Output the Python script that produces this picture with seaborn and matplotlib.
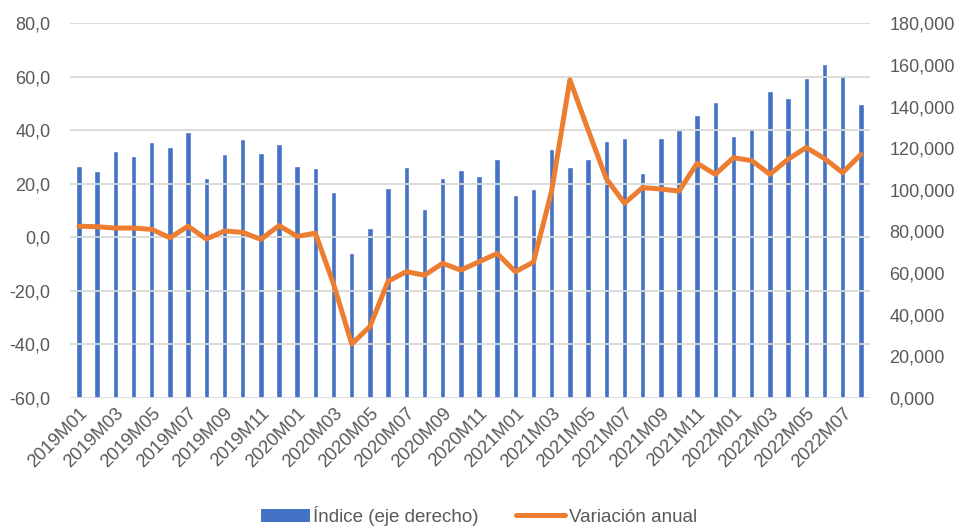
import matplotlib
matplotlib.use('Agg')
import matplotlib.pyplot as plt
from matplotlib.patches import Patch
from matplotlib.lines import Line2D
import numpy as np
import pandas as pd
import seaborn as sns

months = [f'{y}M{m:02d}' for y in range(2019, 2023) for m in range(1, 13)][:44]

indice = [111700, 109000, 118600, 116500, 122900, 120800, 127700, 105800,
          117000, 124500, 117600, 121800, 111700, 110600, 98800, 69500,
          81800, 100900, 111200, 90900, 105800, 109600, 106900, 114700,
          97300, 100500, 119700, 111200, 114700, 123400, 125000, 108000,
          125000, 128800, 136200, 142100, 126100, 129800, 147400, 144200,
          153800, 160600, 154700, 141400]

variacion = [4.2, 4.0, 3.5, 3.5, 3.0, -0.1, 4.2, -0.6,
             2.4, 1.9, -0.7, 4.4, 0.4, 1.6, -17.4, -39.8,
             -33.3, -16.4, -12.8, -14.1, -9.7, -12.2, -9.1, -6.0,
             -12.8, -9.2, 17.5, 58.9, 40.2, 22.0, 12.8, 18.6,
             18.1, 17.3, 27.7, 23.6, 29.8, 28.7, 23.6, 29.2,
             33.6, 29.5, 24.2, 31.0]

left_ticks = [-60, -40, -20, 0, 20, 40, 60, 80]
left_labels = ['-60,0', '-40,0', '-20,0', '0,0', '20,0', '40,0', '60,0', '80,0']
right_ticks = list(range(0, 180001, 20000))
right_labels = ['0,000', '20,000', '40,000', '60,000', '80,000', '100,000',
                '120,000', '140,000', '160,000', '180,000']

df = pd.DataFrame({'mes': months, 'indice': indice, 'variacion': variacion})

sns.set_style('white')
plt.rcParams['font.family'] = ['Liberation Sans', 'DejaVu Sans']

blue = '#4472C4'
orange = '#ED7D31'
grid = '#D9D9D9'
txt = '#595959'

fig = plt.figure(figsize=(9.58, 5.31), dpi=100)
ax = fig.add_axes([0.073, 0.2505, 0.835, 0.7055])

# bars, measured on the right-hand axis
sns.barplot(data=df, x='mes', y='indice', color=blue, width=0.3,
            saturation=1, ax=ax, zorder=1)
ax.set_ylim(0, 180000)

# line, measured on the left-hand axis
ax2 = ax.twinx()
sns.lineplot(data=df, x='mes', y='variacion', color=orange, linewidth=3.6,
             ax=ax2, sort=False)
ax2.set_ylim(-60, 80)
ax2.grid(axis='y', color=grid, linewidth=1.3)

# swap sides (twinx resets them)
ax.yaxis.tick_right()
ax.set_yticks(right_ticks)
ax.set_yticklabels(right_labels)
ax2.yaxis.tick_left()
ax2.set_yticks(left_ticks)
ax2.set_yticklabels(left_labels)

ax.set_xlim(-0.5, len(months) - 0.5)
ax.set_xticks(range(0, len(months), 2))
ax.set_xticklabels(months[::2], rotation=45, ha='right', rotation_mode='anchor')

for a in (ax, ax2):
    a.set_xlabel('')
    a.set_ylabel('')
    for s in a.spines.values():
        s.set_visible(False)
    a.tick_params(length=0, labelsize=13, colors=txt)
ax.tick_params(axis='y', pad=14)
ax2.tick_params(axis='y', pad=14)
ax.tick_params(axis='x', pad=5, labelsize=13.2)

handles = [Patch(facecolor=blue, edgecolor='none'),
           Line2D([0], [0], color=orange, linewidth=3.6)]
fig.legend(handles, ['Índice (eje derecho)', 'Variación anual'],
           loc='lower center', bbox_to_anchor=(0.5, -0.022), ncol=2,
           frameon=False, fontsize=13.5, labelcolor=txt,
           handlelength=2.6, handleheight=0.7, handletextpad=0.2,
           columnspacing=2.0)

fig.savefig('out.png', dpi=100)
